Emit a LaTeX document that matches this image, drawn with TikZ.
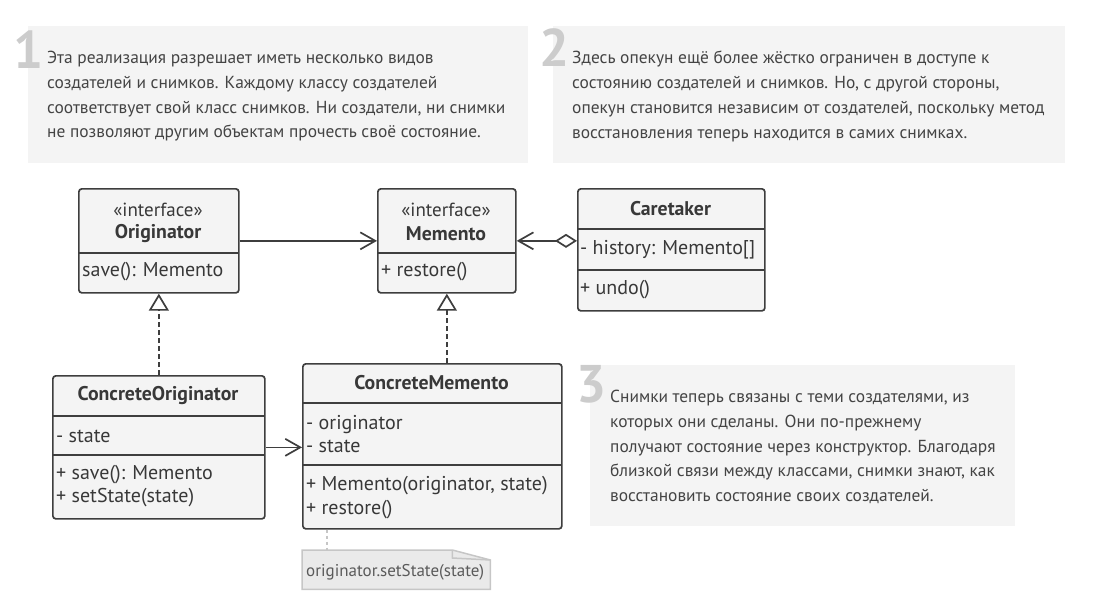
\documentclass[tikz,border=0pt]{standalone}
\usepackage{fontspec}
\setmainfont{PT Sans}
\usetikzlibrary{arrows.meta,calc}
\definecolor{panelbg}{HTML}{F4F4F4}
\definecolor{digit}{HTML}{CCCCCC}
\definecolor{desctext}{HTML}{444444}
\definecolor{clsborder}{HTML}{3E3E3E}
\definecolor{clsfill}{HTML}{F4F4F4}
\definecolor{clstext}{HTML}{383838}
\definecolor{notefill}{HTML}{EAEAEA}
\definecolor{noteborder}{HTML}{C6C6C6}
\definecolor{notetext}{HTML}{5A5A5A}
\tikzset{
  panel/.style={fill=panelbg, draw=none, anchor=north west, inner sep=0pt},
  bigdigit/.style={text=digit, font=\fontsize{53}{53}\selectfont\bfseries, anchor=base, inner sep=0pt},
  desc/.style={text=desctext, font=\fontsize{17.4}{24.8}\selectfont, align=left, anchor=north west, inner sep=0pt},
  cls/.style={draw=clsborder, fill=clsfill, line width=1.7pt, rounded corners=3pt, anchor=north west, inner sep=0pt},
  clsline/.style={draw=clsborder, line width=1.7pt},
  ctitle/.style={text=clstext, font=\fontsize{19.8}{19.8}\selectfont\bfseries, inner sep=0pt},
  cstereo/.style={text=clstext, font=\fontsize{19}{19}\selectfont, inner sep=0pt},
  cmember/.style={text=clstext, font=\fontsize{20}{23.5}\selectfont, align=left, anchor=west, inner sep=0pt},
  assoc/.style={draw=clsborder, line width=1.7pt, -{Straight Barb[length=15pt,width=17pt]}},
  aggr/.style={draw=clsborder, line width=1.7pt, {Diamond[open,length=22pt,width=14pt]}-{Straight Barb[length=15pt,width=17pt]}},
  realiz/.style={draw=clsborder, line width=1.7pt, dash pattern=on 5pt off 3pt, -{Triangle[open,length=17pt,width=20pt]}},
  notebox/.style={anchor=north west, inner sep=0pt, minimum width=188pt, minimum height=39pt},
  notetxt/.style={text=notetext, font=\fontsize{17}{17}\selectfont, anchor=west, inner sep=0pt},
  noteline/.style={draw=noteborder, line width=1.5pt},
}
\begin{document}
\begin{tikzpicture}[x=1pt,y=-1pt]
\useasboundingbox (0,0) rectangle (1093,606);
% panels
\node[panel, minimum width=500pt, minimum height=137pt] (p1) at (28,26) {};
\node[panel, minimum width=512pt, minimum height=137pt] (p2) at (553,26) {};
\node[panel, minimum width=425pt, minimum height=161pt] (p3) at (590,365) {};
\node[bigdigit] (d1) at (28.5,68) {1};
\node[bigdigit] (d2) at (554.5,66) {2};
\node[bigdigit] (d3) at (592,402) {3};
\node[desc] (t1) at (47,51) {Эта реализация разрешает иметь несколько видов\\создателей и снимков. Каждому классу создателей\\соответствует свой класс снимков. Ни создатели, ни снимки\\не позволяют другим объектам прочесть своё состояние.};
\node[desc] (t2) at (572,51) {Здесь опекун ещё более жёстко ограничен в доступе к\\состоянию создателей и снимков. Но, с другой стороны,\\опекун становится независим от создателей, поскольку метод\\восстановления теперь находится в самих снимках.};
\node[desc] (t3) at (610,390) {Снимки теперь связаны с теми создателями, из\\которых они сделаны. Они по-прежнему\\получают состояние через конструктор. Благодаря\\близкой связи между классами, снимки знают, как\\восстановить состояние своих создателей.};
% Originator
\node[cls, minimum width=160pt, minimum height=104pt] (orig) at (78,188) {};
\draw[clsline] (78,253) -- (238,253);
\node[cstereo] (origst) at (158,210) {«interface»};
\node[ctitle] (origtt) at (158,234) {Originator};
\node[cmember] (origm) at (82,272) {save(): Memento};
% Memento
\node[cls, minimum width=138pt, minimum height=104pt] (mem) at (377,188) {};
\draw[clsline] (377,253) -- (515,253);
\node[cstereo] (memst) at (446,210) {«interface»};
\node[ctitle] (memtt) at (446,234) {Memento};
\node[cmember] (memm) at (381,272) {+ restore()};
% Caretaker
\node[cls, minimum width=187pt, minimum height=122pt] (care) at (577,188) {};
\draw[clsline] (577,229) -- (764,229);
\draw[clsline] (577,270) -- (764,270);
\node[ctitle] (carett) at (670.5,209) {Caretaker};
\node[cmember] (carea) at (580,250) {- history: Memento[]};
\node[cmember] (carem) at (580,290) {+ undo()};
% ConcreteOriginator
\node[cls, minimum width=212pt, minimum height=143pt] (corig) at (52,375) {};
\draw[clsline] (52,416) -- (264,416);
\draw[clsline] (52,455) -- (264,455);
\node[ctitle] (corigtt) at (158,396) {ConcreteOriginator};
\node[cmember] (coriga) at (56,436) {- state};
\node[cmember] (corigm) at (56,486) {+ save(): Memento\\+ setState(state)};
% ConcreteMemento
\node[cls, minimum width=259pt, minimum height=165pt] (cmem) at (302,363) {};
\draw[clsline] (302,403) -- (561,403);
\draw[clsline] (302,465) -- (561,465);
\node[ctitle] (cmemtt) at (431.5,383) {ConcreteMemento};
\node[cmember] (cmema) at (306,434) {- originator\\- state};
\node[cmember] (cmemm) at (306,497.5) {+ Memento(originator, state)\\+ restore()};
% note
\node[notebox] (note) at (302,550) {};
\draw[noteline, fill=notefill] (note.north west) -- ($(note.north east)+(-38,0)$) -- ($(note.north east)+(0,10)$) -- (note.south east) -- (note.south west) -- cycle;
\draw[noteline] ($(note.north east)+(-38,0)$) -- ($(note.north east)+(-38,8)$) -- ($(note.north east)+(0,10)$);
\node[notetxt] (notet) at (306,572) {originator.setState(state)};
\coordinate (nt) at (327,550);
% connectors
\draw[assoc] (orig.east) -- (mem.west);
\draw[aggr] (care.west |- mem.east) -- (mem.east);
\draw[realiz] (corig.north) -- (orig.south);
\draw[realiz] (cmem.north -| mem.south) -- (mem.south);
\draw[assoc] (corig.east) -- (corig.east -| cmem.west);
\draw[draw=noteborder, line width=1.5pt, dash pattern=on 3pt off 3pt] (cmem.south -| nt) -- (nt);
\end{tikzpicture}
\end{document}
